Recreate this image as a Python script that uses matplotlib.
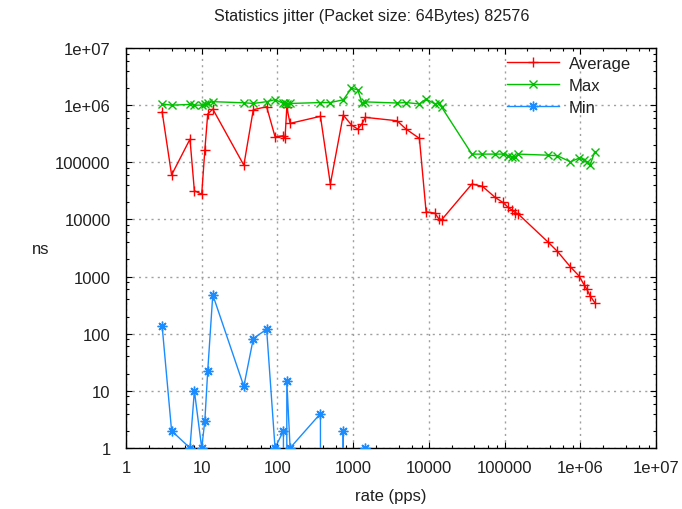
import matplotlib
matplotlib.use("Agg")
import matplotlib.pyplot as plt
import numpy as np
from matplotlib.ticker import LogLocator, NullFormatter

plt.rcParams['font.family'] = ['Liberation Sans', 'DejaVu Sans']

# Data (rate in pps, jitter in ns)
rate = [3, 4, 7, 8, 10, 11, 12, 14, 36, 48, 72, 93, 120, 126, 133, 147,
        370, 500, 740, 950, 1150, 1300, 1450, 3800, 5000, 7500, 9200, 12000,
        13500, 14800, 37000, 51000, 75000, 95000, 112000, 124000, 138000,
        152000, 380000, 500000, 740000, 960000, 1130000, 1220000, 1350000,
        1550000]

average = [767000, 60000, 254000, 31700, 27700, 164000, 698000, 855000,
           89000, 832000, 938000, 280000, 291000, 265000, 915000, 480000,
           637000, 41600, 671000, 449000, 381000, 467000, 611000, 533000,
           381000, 262000, 13600, 12900, 10300, 9900, 41600, 38000, 24300,
           19800, 16200, 14700, 13200, 12400, 3950, 2750, 1480, 1030, 707,
           603, 458, 351]

maximum = [1050000, 1000000, 1030000, 1000000, 1000000, 1030000, 1080000,
           1150000, 1100000, 1070000, 1150000, 1250000, 1070000, 1100000,
           1050000, 1070000, 1110000, 1110000, 1240000, 1970000, 1860000,
           1110000, 1140000, 1090000, 1110000, 1050000, 1280000, 1050000,
           1090000, 915000, 139000, 139000, 139000, 139000, 130000, 122000,
           125000, 139000, 133000, 130000, 102000, 118000, 110000, 99500,
           90000, 152000]

minimum = [137, 2, 1, 10, 1, 3, 22, 480, 12, 82, 120, 1, 2, 0, 15, 1,
           4, 0, 2, 0, 0, 0, 1, 0, 0, 0, 0, 0, 0, 0, 0, 0, 0, 0, 0, 0, 0,
           0, 0, 0, 0, 0, 0, 0, 0, 0]

tick_vals = [1, 10, 100, 1000, 10000, 100000, 1000000, 10000000]
tick_labels = ["1", "10", "100", "1000", "10000", "100000", "1e+06", "1e+07"]

title = "Statistics jitter (Packet size: 64Bytes) 82576"

W, H = 682, 510
fig = plt.figure(figsize=(W / 100, H / 100), dpi=100)
L, R, T, B = 126, 656, 49, 449
ax = fig.add_axes([L / W, 1 - B / H, (R - L) / W, (B - T) / H])

ax.set_xscale('log', nonpositive='clip')
ax.set_yscale('log', nonpositive='clip')

red = '#ff0000'
green = '#00c000'
blue = '#1a8cff'

ax.plot(rate, average, color=red, lw=1.0, marker='+', ms=6.5, mew=1.0,
        label='Average', zorder=3)
ax.plot(rate, maximum, color=green, lw=1.0, marker='x', ms=5.5, mew=1.0,
        label='Max', zorder=3)
ax.plot(rate, minimum, color=blue, lw=1.0, marker=(8, 2, 0), ms=7, mew=1.0,
        label='Min', zorder=3)

ax.set_xlim(1, 1e7)
ax.set_ylim(1, 1e7)

ax.set_xticks(tick_vals)
ax.set_xticklabels(tick_labels)
ax.set_yticks(tick_vals)
ax.set_yticklabels(tick_labels)
ax.xaxis.set_minor_locator(LogLocator(base=10, subs=(2, 4, 6, 8), numticks=20))
ax.yaxis.set_minor_locator(LogLocator(base=10, subs=(2, 4, 6, 8), numticks=20))
ax.xaxis.set_minor_formatter(NullFormatter())
ax.yaxis.set_minor_formatter(NullFormatter())

ax.tick_params(which='both', direction='in', top=True, right=True,
               labelsize=12, colors='black')
ax.tick_params(which='major', length=4.5, width=0.8)
ax.tick_params(which='minor', length=2.5, width=0.8)
ax.tick_params(axis='x', which='major', pad=9)
ax.tick_params(axis='y', which='major', pad=11)
for lab in ax.get_xticklabels() + ax.get_yticklabels():
    lab.set_color('#202020')

ax.grid(True, which='major', color='#a0a0a0', linestyle=(0, (1.5, 3)), lw=1.0)
ax.set_axisbelow(True)
for s in ax.spines.values():
    s.set_linewidth(1.0)
    s.set_color('black')

ax.set_xlabel('rate (pps)', fontsize=12, color='#202020')
ax.xaxis.set_label_coords(0.5, -(497 - B) / (B - T))
ax.xaxis.label.set_va('center')
ax.set_ylabel('ns', fontsize=12, rotation=0, color='#202020')
ax.yaxis.set_label_coords((41 - L) / (R - L), (B - 250) / (B - T))
ax.yaxis.label.set_va('center')
ax.yaxis.label.set_ha('center')

fig.text(372 / W, 1 - 17 / H, title, ha='center', va='center',
         fontsize=11.6, color='#202020')

leg = ax.legend(loc='upper left', bbox_to_anchor=((507 - L) / (R - L), (B - 57) / (B - T)),
                frameon=False, fontsize=12, handlelength=3.1, handletextpad=0.6,
                labelspacing=0.42, borderpad=0, borderaxespad=0, numpoints=1)
for t in leg.get_texts():
    t.set_color('#202020')

fig.savefig('out.png', dpi=100)
